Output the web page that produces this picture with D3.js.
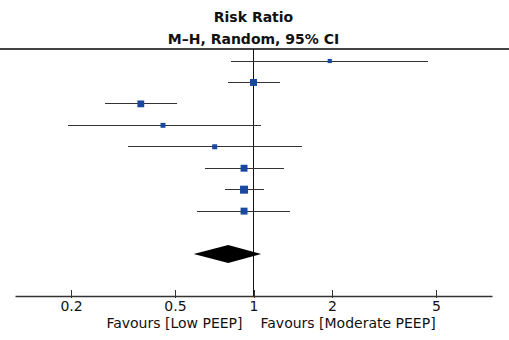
<!DOCTYPE html>
<html>
<head>
<meta charset="utf-8">
<script src="https://cdn.jsdelivr.net/npm/d3@7"></script>
<style>
    body { margin: 0; background: #fff; }
    text { font-family: "DejaVu Sans", Verdana, sans-serif; fill: #111; }
    line { shape-rendering: crispEdges; }
</style>
</head>
<body>
<div id="forest"></div>
<script>
// studies, top to bottom
var studies = ["s1", "s2", "s3", "s4", "s5", "s6", "s7", "s8"]
var rr      = [1.96, 1.00, 0.37, 0.45, 0.71, 0.92, 0.92, 0.92]
var ciLow   = [0.82, 0.80, 0.27, 0.195, 0.33, 0.65, 0.78, 0.61]
var ciHigh  = [4.66, 1.26, 0.51, 1.07, 1.54, 1.31, 1.10, 1.38]
var weights = [5.5, 15.2, 14.5, 7.5, 7.8, 15.0, 20.0, 15.0]

// pooled estimate
var pooled = { est: 0.80, low: 0.59, high: 1.07 }

var tickValues = [0.2, 0.5, 1, 2, 5]
var titleLines = ["Risk Ratio", "M\u2013H, Random, 95% CI"]
var favourLeft = "Favours [Low PEEP]"
var favourRight = "Favours [Moderate PEEP]"

function draw() {
    var width = 509, height = 340

    var svg = d3.select("#forest").append("svg")
        .attr("width", width)
        .attr("height", height)

    var x = d3.scaleLog().domain([1 / 8.2, 8.2]).range([15, 492])
    // row index -> y; the pooled diamond sits at index 9
    var y = d3.scaleLinear().domain([0, 9]).range([61, 254])
    var size = d3.scaleSqrt().domain([0, d3.max(weights)]).range([0, 8])

    var axisY = 296, topY = 49

    // titles
    svg.selectAll("text.title")
        .data(titleLines)
        .enter().append("text")
        .attr("class", "title")
        .attr("x", x(1))
        .attr("y", (d, i) => 22 + i * 22)
        .attr("text-anchor", "middle")
        .style("font-size", "14px")
        .style("font-weight", "bold")
        .text(d => d)

    // header rule
    svg.append("line")
        .attr("x1", 0).attr("x2", width)
        .attr("y1", topY).attr("y2", topY)
        .attr("stroke", "#444")
        .attr("stroke-width", 2)

    // line of no effect
    svg.append("line")
        .attr("x1", x(1)).attr("x2", x(1))
        .attr("y1", topY).attr("y2", axisY)
        .attr("stroke", "#111")
        .attr("stroke-width", 1)

    // confidence intervals
    var rows = studies.map((s, i) => ({ name: s, i: i, rr: rr[i], lo: ciLow[i], hi: ciHigh[i], w: weights[i] }))

    svg.append("g").selectAll("line")
        .data(rows)
        .enter().append("line")
        .attr("x1", d => x(d.lo))
        .attr("x2", d => x(d.hi))
        .attr("y1", d => y(d.i))
        .attr("y2", d => y(d.i))
        .attr("stroke", "#333")
        .attr("stroke-width", 1)

    svg.append("g").selectAll("rect")
        .data(rows)
        .enter().append("rect")
        .attr("x", d => x(d.rr) - size(d.w) / 2)
        .attr("y", d => y(d.i) - size(d.w) / 2)
        .attr("width", d => size(d.w))
        .attr("height", d => size(d.w))
        .attr("fill", "#1848a0")

    // pooled diamond
    var dy = y(9), dh = 9
    svg.append("path")
        .attr("d", "M" + x(pooled.low) + "," + dy +
            "L" + x(pooled.est) + "," + (dy - dh) +
            "L" + x(pooled.high) + "," + dy +
            "L" + x(pooled.est) + "," + (dy + dh) + "Z")
        .attr("fill", "#000")

    // x axis
    var axis = d3.axisBottom(x)
        .tickValues(tickValues)
        .tickFormat(d3.format("~g"))
        .tickSize(0)
        .tickPadding(5)

    var gx = svg.append("g")
        .attr("transform", "translate(0," + axisY + ")")
        .call(axis)

    gx.select(".domain").attr("stroke", "#333").attr("stroke-width", 1.5)
    gx.selectAll(".tick line").remove()
    gx.selectAll(".tick").append("line")
        .attr("y1", -6).attr("y2", 2)
        .attr("stroke", "#333")
    gx.selectAll(".tick text")
        .style("font-size", "14px")
        .style("font-family", "'DejaVu Sans', Verdana, sans-serif")
        .attr("fill", "#111")

    svg.append("text")
        .attr("x", x(1) - 11)
        .attr("y", 328)
        .attr("text-anchor", "end")
        .style("font-size", "14px")
        .text(favourLeft)

    svg.append("text")
        .attr("x", x(1) + 7)
        .attr("y", 328)
        .attr("text-anchor", "start")
        .style("font-size", "14px")
        .text(favourRight)
}

draw()
</script>
</body>
</html>
